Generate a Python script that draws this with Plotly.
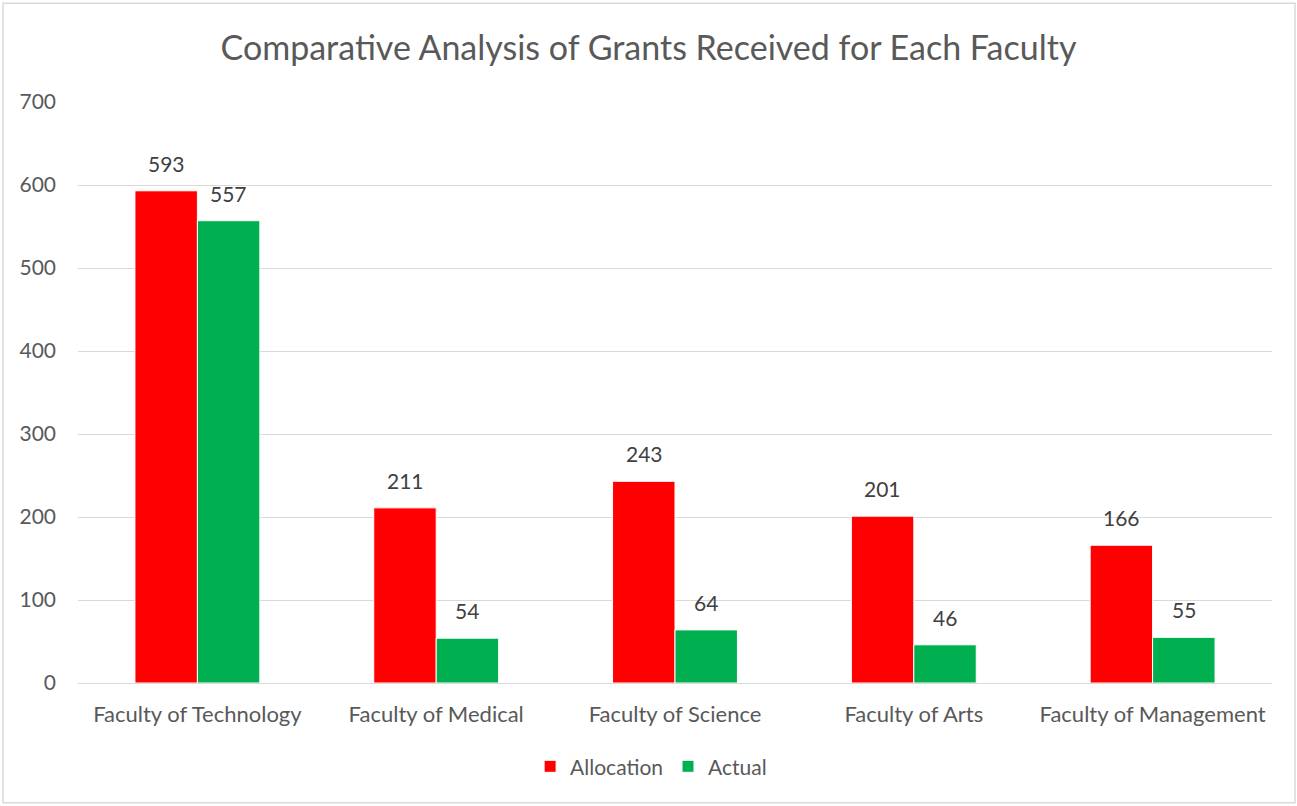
import plotly.graph_objects as go

categories = ["Faculty of Technology", "Faculty of Medical", "Faculty of Science",
              "Faculty of Arts", "Faculty of Management"]
allocation = [593, 211, 243, 201, 166]
actual = [557, 54, 64, 46, 55]
y_ticks = [0, 100, 200, 300, 400, 500, 600, 700]

FONT = "Lato, Open Sans, sans-serif"
TXT = "#595959"
LBL = "#404040"
SZ = 21

fig = go.Figure()
fig.add_bar(name="Allocation", x=categories, y=allocation, marker_color="#FF0000",
            marker_line=dict(color="white", width=1), offsetgroup="a")
fig.add_bar(name="Actual", x=categories, y=actual, marker_color="#00B050",
            marker_line=dict(color="white", width=1), offsetgroup="b")

# data labels above each bar
for vals, shift in ((allocation, -31), (actual, 31)):
    for c, v in zip(categories, vals):
        fig.add_annotation(x=c, y=v, text=str(v), showarrow=False, xshift=shift,
                           yanchor="bottom", yshift=13,
                           font=dict(size=SZ, color=LBL, family=FONT))

fig.update_layout(
    width=1297, height=806,
    paper_bgcolor="white", plot_bgcolor="white",
    margin=dict(l=78, r=25, t=102, b=123),
    barmode="group", bargap=0.477, bargroupgap=0,
    font=dict(family=FONT, color=TXT, size=SZ),
    title=dict(text="Comparative Analysis of Grants Received for Each Faculty",
               x=0.5, xanchor="center", y=0.94, yanchor="middle",
               font=dict(size=34, color=TXT, family=FONT)),
    legend=dict(orientation="h", x=0.48, xanchor="center", y=-0.144, yanchor="middle",
                font=dict(size=SZ, color=TXT, family=FONT), traceorder="normal",
                itemwidth=30),
    showlegend=True,
    xaxis=dict(showgrid=False, showline=True, linecolor="#D9D9D9", linewidth=1,
               ticks="", ticklabelstandoff=12, tickfont=dict(size=22, color=TXT)),
    yaxis=dict(range=[0, 700], tickvals=y_ticks, showgrid=True, gridcolor="#D9D9D9",
               gridwidth=1, zeroline=False, showline=False, ticks="",
               ticklabelstandoff=21, tickfont=dict(size=SZ, color=TXT)),
)
# outer chart border
fig.add_shape(type="rect", xref="x domain", yref="y domain",
              x0=-75/1194, x1=1+23/1194, y0=-120/582, y1=1+99/582,
              line=dict(color="#D9D9D9", width=1.5), fillcolor="rgba(0,0,0,0)")
fig.write_html("out.html", config={"displayModeBar": False},
               post_script="document.body.style.margin='0';document.body.style.overflow='hidden';")
